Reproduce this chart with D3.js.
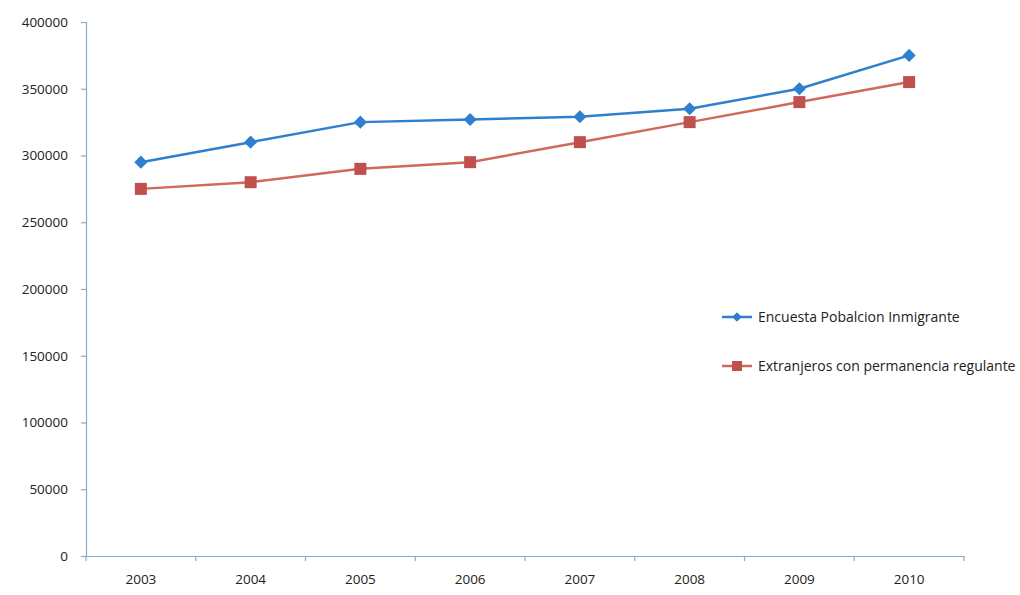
<!DOCTYPE html>
<html><head><meta charset="utf-8">
<script src="https://cdn.jsdelivr.net/npm/d3@7"></script>
<style>body{margin:0;background:#fff;} text{font-family:"Open Sans",sans-serif;}</style>
</head><body>
<svg id="c" width="1020" height="595"></svg>
<script>
const years = ["2003","2004","2005","2006","2007","2008","2009","2010"];
const encuesta = [295000,310000,325000,327000,329000,335000,350000,375000];
const extranjeros = [275000,280000,290000,295000,310000,325000,340000,355000];
const yTicks = [0,50000,100000,150000,200000,250000,300000,350000,400000];
const seriesNames = ["Encuesta Pobalcion Inmigrante","Extranjeros con permanencia regulante"];

const svg = d3.select("#c");
const axisColor = "#86aec4";
const blue = "#2f7fcf", red = "#c0504d", redLine = "#cf6a5a";

const x = d3.scaleBand().domain(years).range([86,964]);
const y = d3.scaleLinear().domain([0,400000]).range([556,22]);

// y axis
const ya = svg.append("g").attr("transform","translate(86,0)")
  .call(d3.axisLeft(y).tickValues(yTicks).tickSize(5).tickPadding(13).tickFormat(d3.format("d")));
ya.selectAll("path,line").attr("stroke",axisColor).attr("stroke-width",1.2);
ya.selectAll("text").attr("fill","#222").attr("font-size",13.5).attr("font-family","'Open Sans',sans-serif");

// x axis
const xa = svg.append("g").attr("transform","translate(0,556)")
  .call(d3.axisBottom(x).tickSize(0).tickPadding(18));
xa.selectAll("path").attr("stroke",axisColor).attr("stroke-width",1.2);
xa.selectAll("text").attr("fill","#222").attr("font-size",13.5).attr("font-family","'Open Sans',sans-serif");
// boundary ticks
const bounds = years.map(d=>x(d)).concat([x.range()[1]]);
svg.append("g").selectAll("line").data(bounds).join("line")
  .attr("x1",d=>d).attr("x2",d=>d).attr("y1",556).attr("y2",561)
  .attr("stroke",axisColor).attr("stroke-width",1.2);

const cx = d => x(d)+x.bandwidth()/2;
const line = d3.line().x((d,i)=>cx(years[i])).y(d=>y(d));

svg.append("path").datum(extranjeros).attr("d",line).attr("fill","none").attr("stroke",redLine).attr("stroke-width",2.5);
svg.append("path").datum(encuesta).attr("d",line).attr("fill","none").attr("stroke",blue).attr("stroke-width",2.5);

svg.append("g").selectAll("rect").data(extranjeros).join("rect")
  .attr("x",(d,i)=>cx(years[i])-6).attr("y",d=>y(d)-6).attr("width",12).attr("height",12).attr("fill",red);
const diamond = d3.symbol().type(d3.symbolDiamond2).size(110);
svg.append("g").selectAll("path").data(encuesta).join("path")
  .attr("d",diamond).attr("transform",(d,i)=>`translate(${cx(years[i])},${y(d)})`).attr("fill",blue);

// legend
const lg = svg.append("g");
const legendY = [317,366];
const colors = [blue, redLine];
legendY.forEach((ly,i)=>{
  lg.append("line").attr("x1",722).attr("x2",752).attr("y1",ly).attr("y2",ly).attr("stroke",colors[i]).attr("stroke-width",2.5);
  if(i===0){
    lg.append("path").attr("d",d3.symbol().type(d3.symbolDiamond2).size(60)).attr("transform",`translate(737,${ly})`).attr("fill",blue);
  } else {
    lg.append("rect").attr("x",732).attr("y",ly-5).attr("width",10).attr("height",10).attr("fill",red);
  }
  lg.append("text").attr("x",758).attr("y",ly).attr("dy","0.35em").attr("font-size",14).attr("fill","#222").text(seriesNames[i]);
});
</script>
</body></html>
